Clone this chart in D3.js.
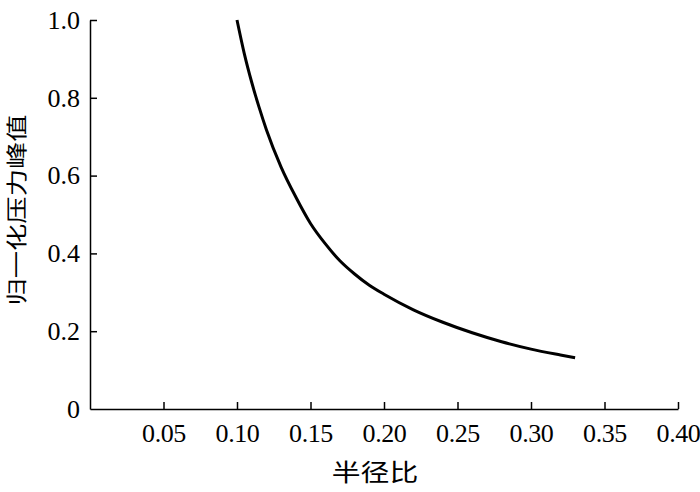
<!DOCTYPE html>
<html>
<head>
<meta charset="utf-8">
<script src="https://cdn.jsdelivr.net/npm/d3@7"></script>
<style>
  html, body { margin: 0; padding: 0; background: #fff; }
  svg { display: block; }
</style>
</head>
<body>
<svg id="chart" width="700" height="492"></svg>
<script>
// Data
const radiusRatio = [0.100, 0.105, 0.110, 0.115, 0.120, 0.130, 0.140, 0.150, 0.160, 0.170, 0.180, 0.190, 0.200, 0.220, 0.240, 0.260, 0.280, 0.300, 0.320, 0.330];
const peakPressure = [1.000, 0.913, 0.840, 0.776, 0.718, 0.622, 0.545, 0.477, 0.425, 0.381, 0.347, 0.318, 0.295, 0.255, 0.223, 0.196, 0.173, 0.154, 0.139, 0.132];
const xTicks = [0.05, 0.10, 0.15, 0.20, 0.25, 0.30, 0.35, 0.40];
const yTicks = [0, 0.2, 0.4, 0.6, 0.8, 1.0];
const xTitle = "半径比";
const yTitle = "归一化压力峰值";

const svg = d3.select("#chart");
const mLeft = 90, mRight = 678, mTop = 20, mBottom = 409;
const x = d3.scaleLinear().domain([0, 0.40]).range([mLeft, mRight]);
const y = d3.scaleLinear().domain([0, 1.0]).range([mBottom, mTop]);

const serif = "'Liberation Serif', 'Times New Roman', serif";
const cjk = "'Noto Sans CJK SC', sans-serif";

// X axis (ticks inward)
const xAxis = svg.append("g").attr("transform", `translate(0,${mBottom})`)
  .call(d3.axisBottom(x).tickValues(xTicks).tickSizeInner(-7).tickSizeOuter(0).tickPadding(15)
    .tickFormat(d3.format(".2f")));
xAxis.select(".domain").attr("stroke", "#000").attr("stroke-width", 1.5);
xAxis.selectAll(".tick line").attr("stroke", "#000").attr("stroke-width", 1.5);
xAxis.selectAll(".tick text").attr("font-family", serif).attr("font-size", 26)
  .attr("letter-spacing", "-0.4px").attr("fill", "#000");

// Y axis (ticks inward)
const yAxis = svg.append("g").attr("transform", `translate(${mLeft},0)`)
  .call(d3.axisLeft(y).tickValues(yTicks).tickSizeInner(-7).tickSizeOuter(0).tickPadding(10)
    .tickFormat(d => d === 0 ? "0" : d3.format(".1f")(d)));
yAxis.select(".domain").attr("stroke", "#000").attr("stroke-width", 1.5);
yAxis.selectAll(".tick line").attr("stroke", "#000").attr("stroke-width", 1.5)
  .filter(d => d === 0).remove();
yAxis.selectAll(".tick text").attr("font-family", serif).attr("font-size", 26).attr("fill", "#000");

// Curve
const line = d3.line()
  .x((d, i) => x(radiusRatio[i]))
  .y(d => y(d))
  .curve(d3.curveMonotoneX);
svg.append("path")
  .datum(peakPressure)
  .attr("d", line)
  .attr("fill", "none")
  .attr("stroke", "#000")
  .attr("stroke-width", 3)
  .attr("stroke-linecap", "butt");

// Axis titles
svg.append("text")
  .attr("transform", `translate(375,481) scale(1.2,1)`)
  .attr("text-anchor", "middle")
  .attr("font-family", cjk).attr("font-size", 24).attr("fill", "#000")
  .text(xTitle);

svg.append("text")
  .attr("transform", `translate(24,210) rotate(-90) scale(1.3,1)`)
  .attr("text-anchor", "middle")
  .attr("font-family", cjk).attr("font-size", 21).attr("fill", "#000")
  .text(yTitle);
</script>
</body>
</html>
